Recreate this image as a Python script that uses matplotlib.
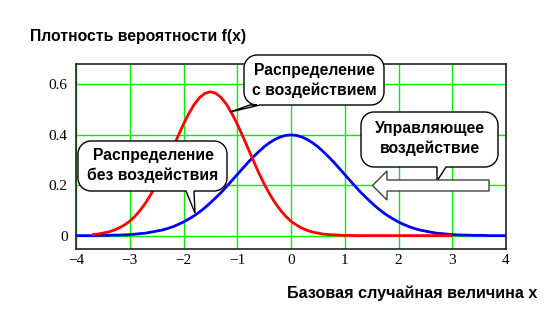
import matplotlib
matplotlib.use("Agg")
import matplotlib.pyplot as plt
from matplotlib.path import Path
from matplotlib.patches import PathPatch, Polygon
from matplotlib.transforms import IdentityTransform

# ---- data ----
blue_x = [-4.0, -3.9, -3.8, -3.7, -3.6, -3.5, -3.4, -3.3, -3.2, -3.1, -3.0, -2.9, -2.8, -2.7,
          -2.6, -2.5, -2.4, -2.3, -2.2, -2.1, -2.0, -1.9, -1.8, -1.7, -1.6, -1.5, -1.4, -1.3,
          -1.2, -1.1, -1.0, -0.9, -0.8, -0.7, -0.6, -0.5, -0.4, -0.3, -0.2, -0.1, 0.0, 0.1,
          0.2, 0.3, 0.4, 0.5, 0.6, 0.7, 0.8, 0.9, 1.0, 1.1, 1.2, 1.3, 1.4, 1.5, 1.6, 1.7,
          1.8, 1.9, 2.0, 2.1, 2.2, 2.3, 2.4, 2.5, 2.6, 2.7, 2.8, 2.9, 3.0, 3.1, 3.2, 3.3,
          3.4, 3.5, 3.6, 3.7, 3.8, 3.9, 4.0]
blue_y = [0.000, 0.000, 0.000, 0.000, 0.001, 0.001, 0.001, 0.002, 0.002, 0.003, 0.004, 0.006,
          0.008, 0.010, 0.014, 0.018, 0.022, 0.028, 0.035, 0.044, 0.054, 0.066, 0.079, 0.094,
          0.111, 0.130, 0.150, 0.171, 0.194, 0.218, 0.242, 0.266, 0.290, 0.312, 0.333, 0.352,
          0.368, 0.381, 0.391, 0.397, 0.399, 0.397, 0.391, 0.381, 0.368, 0.352, 0.333, 0.312,
          0.290, 0.266, 0.242, 0.218, 0.194, 0.171, 0.150, 0.130, 0.111, 0.094, 0.079, 0.066,
          0.054, 0.044, 0.035, 0.028, 0.022, 0.018, 0.014, 0.010, 0.008, 0.006, 0.004, 0.003,
          0.002, 0.002, 0.001, 0.001, 0.001, 0.000, 0.000, 0.000, 0.000]

red_x = [-3.7, -3.6, -3.5, -3.4, -3.3, -3.2, -3.1, -3.0, -2.9, -2.8, -2.7, -2.6, -2.5, -2.4,
         -2.3, -2.2, -2.1, -2.0, -1.9, -1.8, -1.7, -1.6, -1.5, -1.4, -1.3, -1.2, -1.1, -1.0,
         -0.9, -0.8, -0.7, -0.6, -0.5, -0.4, -0.3, -0.2, -0.1, 0.0, 0.1, 0.2, 0.3, 0.4,
         0.5, 0.6, 0.7, 0.8, 0.9, 1.0, 1.1, 1.2, 1.5, 2.0, 2.5, 3.0]
red_y = [0.004, 0.006, 0.010, 0.014, 0.021, 0.030, 0.042, 0.057, 0.077, 0.102, 0.131, 0.166,
         0.205, 0.249, 0.297, 0.346, 0.395, 0.442, 0.484, 0.520, 0.547, 0.564, 0.570, 0.564,
         0.547, 0.520, 0.484, 0.442, 0.395, 0.346, 0.297, 0.249, 0.205, 0.166, 0.131, 0.102,
         0.077, 0.057, 0.042, 0.030, 0.021, 0.014, 0.010, 0.006, 0.004, 0.003, 0.002, 0.001,
         0.001, 0.000, 0.000, 0.000, 0.000, 0.000]

x_ticks = [-4, -3, -2, -1, 0, 1, 2, 3, 4]
x_tick_labels = ["\u22124", "\u22123", "\u22122", "\u22121", "0", "1", "2", "3", "4"]
y_ticks = [0, 0.2, 0.4, 0.6]
y_tick_labels = ["0", "0.2", "0.4", "0.6"]

title_text = "Плотность вероятности f(x)"
xlabel_text = "Базовая случайная величина x"
callout_with = ["Распределение", "с воздействием"]
callout_without = ["Распределение", "без воздействия"]
callout_control = ["Управляющее", "воздействие"]

# ---- figure ----
W, H = 560, 330
fig = plt.figure(figsize=(W / 100, H / 100), dpi=100)
fig.patch.set_facecolor("white")
ax = fig.add_axes([76 / W, 1 - 249 / H, (506 - 76) / W, (249 - 64) / H])

ax.plot(blue_x, blue_y, color="#0000ff", lw=2.0, zorder=3, solid_capstyle="butt")
ax.plot(red_x, red_y, color="#ff0000", lw=2.0, zorder=4, solid_capstyle="butt")

ax.set_xlim(-4, 4)
ax.set_ylim(-0.053, 0.68)
ax.set_xticks(x_ticks)
ax.set_xticklabels(x_tick_labels)
ax.set_yticks(y_ticks)
ax.set_yticklabels(y_tick_labels)
ax.tick_params(length=0, labelsize=11)
ax.tick_params(axis="x", pad=3.5)
ax.tick_params(axis="y", pad=6)
for lab in ax.get_xticklabels() + ax.get_yticklabels():
    lab.set_family("Liberation Serif")
ax.grid(True, color="#00f000", lw=1.0, zorder=1)
ax.set_axisbelow(True)
for sp in ax.spines.values():
    sp.set_color("#222222")
    sp.set_linewidth(1.2)

SANS = "Liberation Sans"
fig.text(30 / W, 1 - 37 / H, title_text, ha="left", va="center",
         fontsize=11.3, fontweight="bold", family=SANS)
fig.text(537 / W, 1 - 293 / H, xlabel_text, ha="right", va="center",
         fontsize=11.6, fontweight="bold", family=SANS)


def px(x, y):
    return (x, H - y)


def callout(x0, x1, ytop, ybot, r, xa, xb, tip):
    # coordinates in image pixels (y from top); tail on bottom edge
    X0, X1 = x0, x1
    Y0, Y1 = H - ybot, H - ytop
    k = 0.5523 * r
    tx, ty = tip[0], H - tip[1]
    verts = [
        (X0 + r, Y0),
        (xa, Y0), (tx, ty), (xb, Y0),
        (X1 - r, Y0),
        (X1 - r + k, Y0), (X1, Y0 + r - k), (X1, Y0 + r),
        (X1, Y1 - r),
        (X1, Y1 - r + k), (X1 - r + k, Y1), (X1 - r, Y1),
        (X0 + r, Y1),
        (X0 + r - k, Y1), (X0, Y1 - r + k), (X0, Y1 - r),
        (X0, Y0 + r),
        (X0, Y0 + r - k), (X0 + r - k, Y0), (X0 + r, Y0),
        (X0 + r, Y0),
    ]
    codes = [Path.MOVETO,
             Path.LINETO, Path.LINETO, Path.LINETO,
             Path.LINETO,
             Path.CURVE4, Path.CURVE4, Path.CURVE4,
             Path.LINETO,
             Path.CURVE4, Path.CURVE4, Path.CURVE4,
             Path.LINETO,
             Path.CURVE4, Path.CURVE4, Path.CURVE4,
             Path.LINETO,
             Path.CURVE4, Path.CURVE4, Path.CURVE4,
             Path.CLOSEPOLY]
    patch = PathPatch(Path(verts, codes), facecolor="white", edgecolor="black",
                      lw=1.0, transform=IdentityTransform(), zorder=10)
    fig.add_artist(patch)


def callout_text(cx, cy1, cy2, lines):
    for cy, t in zip((cy1, cy2), lines):
        fig.text(cx / W, 1 - cy / H, t, ha="center", va="center", fontsize=11.3,
                 fontweight="bold", family=SANS, zorder=11)


# callout "with"
callout(244, 384, 55, 105, 13, 250, 260, (230, 112))
callout_text(314, 71, 90, callout_with)
# callout "without"
callout(78, 227, 141, 191, 13, 186, 194, (195, 213))
callout_text(153, 156, 175, callout_without)
# callout "control"
callout(361, 498, 112, 167, 13, 437, 446, (437, 181))
callout_text(430, 129, 148, callout_control)

# hollow arrow
arrow_pts = [(372.5, 185.5), (387, 171), (387, 180), (489, 180), (489, 191),
             (387, 191), (387, 200), (372.5, 185.5)]
arrow = Polygon([px(a, b) for a, b in arrow_pts], closed=True, facecolor="white",
                edgecolor="#404040", lw=1.0, transform=IdentityTransform(), zorder=10)
fig.add_artist(arrow)

fig.savefig("out.png", dpi=100, facecolor="white")
